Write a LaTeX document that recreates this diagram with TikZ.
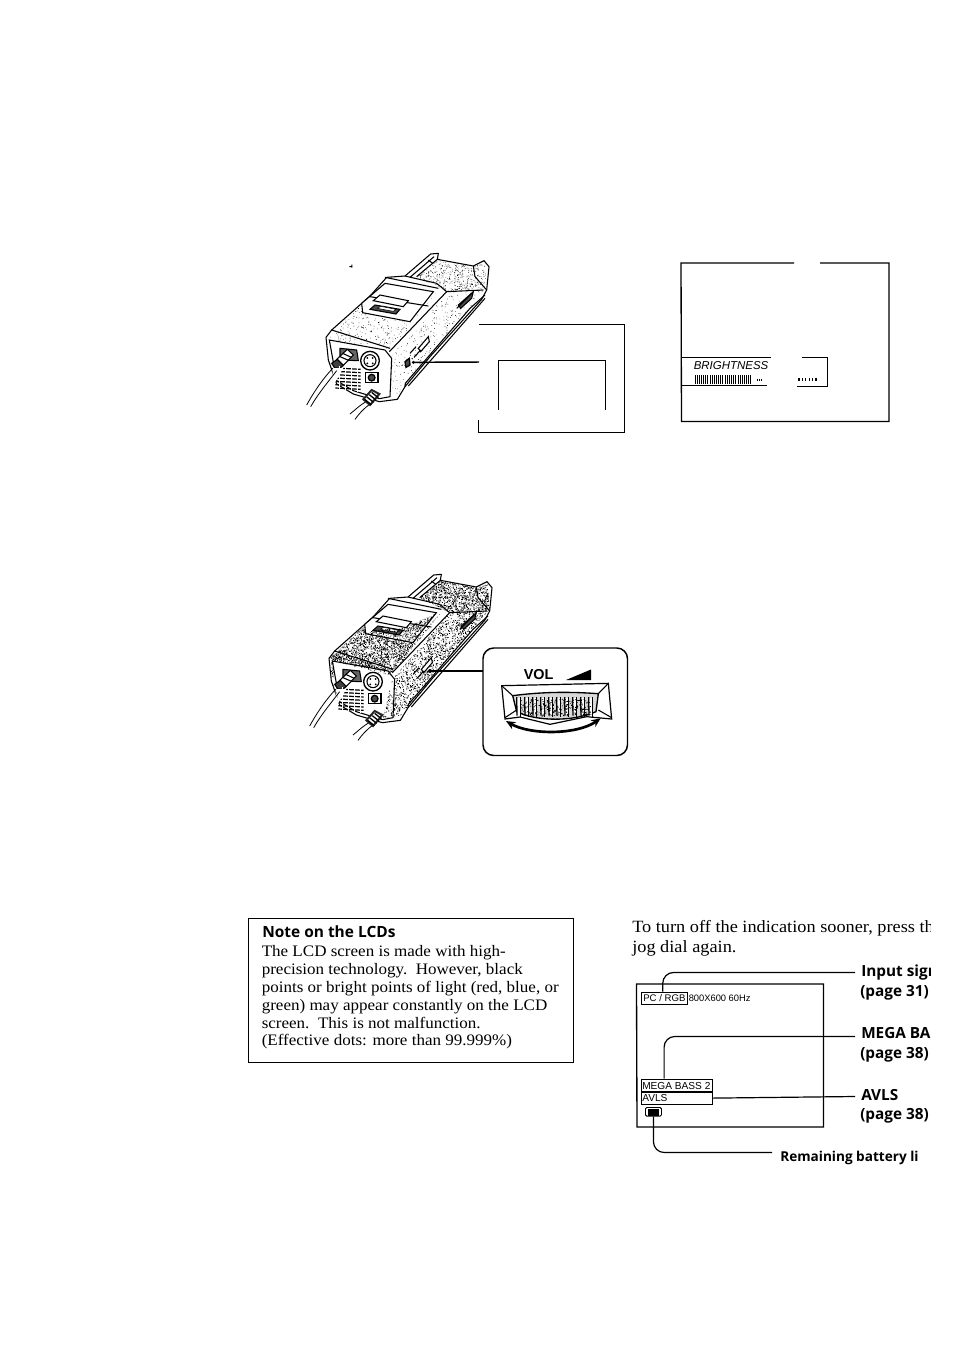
\documentclass[tikz,border=0pt]{standalone}
\usepackage{fontspec}
\setmainfont[FakeStretch=1.064]{Liberation Serif}
\newfontfamily\labelfont{Open Sans}
\newfontfamily\lcdfont{Liberation Sans}
\usetikzlibrary{arrows.meta}
\tikzset{
  frameline/.style={line width=1pt,black},
  thinframe/.style={line width=0.65pt,black},
  leader/.style={line width=0.9pt,black,rounded corners=8pt},
  devline/.style={line width=0.8pt,black},
  devthin/.style={line width=0.4pt,black},
  bodytext/.style={inner sep=0pt,anchor=north west,align=left,font=\fontsize{12}{13.35}\selectfont},
  calloutlabel/.style={inner sep=0pt,anchor=base west,font=\labelfont\bfseries\fontsize{11.5}{12}\selectfont},
  lcdtext/.style={inner sep=0pt,anchor=base west,font=\lcdfont\fontsize{7}{8}\selectfont},
}
\newcommand{\speckle}[6]{% batches-of-100 x0 x1 y0 y1 size
  \foreach \b in {1,...,#1}{
    \fill[black] \foreach \i in {1,...,100}{
      ({#2+rnd*(#3-#2)},{#4+rnd*(#5-#4)}) rectangle ++(#6,#6)
    };
  }}
% device drawing, in units of 1/3 px
\newcommand{\devicedraw}[3]{%
  % silhouette
  \draw[devline,fill=white,line join=round] (108,292) -- (125,270) -- (240,168) -- (290,112) -- (345,108)
     -- (422,42) -- (445,40) -- (442,58) -- (550,78) -- (582,62) -- (597,80) -- (590,150) -- (575,178)
     -- (420,350) -- (345,440) -- (322,478) -- (268,485) -- (190,462) -- (140,432) -- (115,360) -- cycle;
  % speckle top and side
  \begin{scope}
    \clip (112,290) -- (240,172) -- (220,215) -- (362,245) -- (448,150) -- (300,335) -- (122,298) -- cycle;
    \speckle{#1}{110}{450}{150}{340}{\dsize}
  \end{scope}
  \begin{scope}
    \clip (302,350) -- (470,158) -- (585,150) -- (420,345) -- (330,460) -- (300,470) -- cycle;
    \speckle{#2}{300}{585}{150}{470}{\dsize}
  \end{scope}
  \begin{scope}
    \clip (442,60) -- (550,80) -- (585,70) -- (590,148) -- (470,155) -- (380,110) -- cycle;
    \speckle{#3}{380}{590}{60}{155}{\dsize}
  \end{scope}
  % cradle rails
  \draw[devline] (345,108) -- (440,130) -- (470,155) -- (580,150);
  \draw[devline] (360,112) -- (432,50) (380,110) -- (442,58);
  \draw[devline] (550,78) -- (555,110) -- (590,150);
  \draw[devline] (415,60) -- (428,70);
  % top panel
  \draw[devline] (125,270) -- (300,325) (285,112) -- (445,145);
  \draw[devline,fill=white] (215,190) -- (285,130) -- (430,155) -- (360,245) -- (218,218) -- cycle;
  \draw[devline] (240,170) -- (415,198);
  \draw[devline,fill=white] (250,182) -- (270,165) -- (355,182) -- (340,200) -- cycle;
  \draw[devline,fill=black!70] (240,208) -- (255,195) -- (330,208) -- (318,222) -- cycle;
  \draw[devthin,fill=white] (262,205) -- (272,199) -- (318,208) -- (310,214) -- cycle;
  % front face
  \draw[devline,fill=white] (118,300) -- (285,330) -- (305,355) -- (300,470) -- (268,476) -- (190,452) -- (140,422) -- cycle;
  \draw[devline] (298,335) -- (470,155);
  \draw[devline] (345,440) -- (346,430) -- (540,205) -- (585,165);
  \draw[devline] (355,438) -- (585,175);
  % socket
  \draw[devline,fill=black!60] (150,325) -- (200,330) -- (205,362) -- (150,360) -- cycle;
  \draw[devline,fill=white] (140,358) -- (172,328) -- (190,345) -- (158,378) -- cycle;
  \draw[devline] (150,350) -- (178,362) (158,340) -- (184,352);
  \draw[devline,fill=black!75] (125,370) -- (142,358) -- (160,376) -- (140,392) -- cycle;
  % round socket
  \draw[line width=1pt,fill=white] (240,362) circle (28);
  \draw[devline] (240,362) circle (18);
  \fill (232,354) circle (3) (248,354) circle (3) (232,370) circle (3) (248,370) circle (3);
  % square jack
  \draw[line width=1pt,fill=white] (226,398) rectangle (264,428);
  \draw[line width=1pt,fill=black!70] (245,413) circle (10);
  % grille
  \foreach \y in {384,394,...,444}{
    \draw[line width=0.9pt] (136,\y) -- (212,\y+4);
  }
  \foreach \x in {148,166,184,202}{
    \fill[white] (\x,378) rectangle ++(2.5,78);
  }
  \fill[white] (128,384) -- (160,384) -- (128,440) -- cycle;
  % cables
  \draw[line width=0.6pt] (128,385) .. controls (100,415) and (75,450) .. (50,495);
  \draw[line width=0.6pt] (140,392) .. controls (115,425) and (85,460) .. (62,500);
  \draw[line width=0.6pt] (228,485) .. controls (210,495) and (195,510) .. (180,522);
  \draw[line width=0.6pt] (240,492) .. controls (222,505) and (208,520) .. (195,538);
  \draw[line width=1.5pt,black!85,fill=white] (220,478) -- (245,450) -- (268,462) -- (240,495) -- cycle;
  \foreach \k in {0,1,2,3}{
    \draw[line width=1pt] (224+\k*7,478-\k*7) -- (244+\k*7,494-\k*7);
  }
  % side controls
  \draw[devline,fill=white] (385,325) -- (415,290) -- (418,305) -- (392,335) -- cycle;
  \draw[devline] (360,340) -- (378,320) (372,352) -- (392,330);
  \draw[devline,fill=black!70] (505,195) -- (550,155) -- (545,175) -- (512,205) -- cycle;
  \draw[devline] (500,205) -- (545,160);
}
\begin{document}
\begin{tikzpicture}[x=0.75pt,y=-0.75pt]
\useasboundingbox (0,0) rectangle (954,1350);
\fill[white] (0,0) rectangle (954,1350);

% ---------- first device
\pgfmathsetseed{4242}
\def\dsize{1.7}
\begin{scope}[shift={(290,240)},x=0.25pt,y=-0.25pt]
  \devicedraw{7}{7}{6}
  \draw[line width=1pt,fill=black!70] (345,365) -- (358,355) -- (360,375) -- (348,382) -- cycle;
  \fill (370,367) circle (5);
  \coordinate (devA) at (370,367);
  \fill[black] (178,78) rectangle ++(8,3) (184,74) rectangle ++(3,9);
\end{scope}
\node[inner sep=0pt] (calloutA) at (479,362) {};
\draw[line width=1.1pt] (devA) -- (calloutA.center);
\draw[thinframe] (479,324) -- (624.5,324) -- (624.5,432) -- (478.5,432) -- (478.5,420);
\draw[thinframe] (498,410) -- (498,360) -- (605,360) -- (605,410);

% ---------- monitor with BRIGHTNESS
\draw[frameline] (794,263) -- (681,263) -- (681.5,421.5) -- (889,421.5) -- (889,263) -- (820,263);
\draw[thinframe] (682,357.5) -- (771,357.5) (682,385) -- (767,385);
\draw[thinframe] (802,357.5) -- (827,357.5) -- (827,386) -- (797,386);
\node[inner sep=0pt,anchor=base west,font=\lcdfont\itshape\fontsize{8.6}{10}\selectfont] (bright) at (693.5,369.5) {BRIGHTNESS};
\foreach \i in {0,...,26}{
  \draw[line width=0.75pt] (695+\i*2.15,375) -- (695+\i*2.15,383.5);
}
\foreach \i in {0,1,2}{ \draw[line width=0.7pt] (757+\i*2.3,378.5) -- (757+\i*2.3,381); }
\foreach \i in {0,...,5}{ \draw[line width=0.9pt] (799+\i*3.4,378) -- (799+\i*3.4,381); }

% ---------- second device
\pgfmathsetseed{977}
\def\dsize{2.4}
\begin{scope}[shift={(293,561)},x=0.25pt,y=-0.25pt]
  \devicedraw{40}{32}{12}
  \coordinate (devB) at (411,330);
  \fill (411,330) circle (6);
  % darkened front edge and top panel
  \begin{scope}
    \clip (108,292) -- (125,270) -- (300,335) -- (305,470) -- (270,470) -- (300,345) -- (120,300) -- (135,420) -- (115,360) -- cycle;
    \speckle{13}{105}{310}{265}{470}{2.2}
  \end{scope}
  \begin{scope}
    \clip (215,218) -- (360,245) -- (430,155) -- (340,200) -- (240,208) -- cycle;
    \speckle{12}{215}{430}{155}{245}{2.2}
  \end{scope}
\end{scope}
\node[inner sep=0pt] (dialhook) at (483,671) {};
\draw[line width=1.2pt] (devB) -- (dialhook.center);
\draw[line width=1.1pt,rounded corners=8pt,fill=white] (483,648) rectangle (627.5,755.5);
\node[inner sep=0pt,anchor=base west,font=\lcdfont\bfseries\fontsize{10.8}{12}\selectfont] (vol) at (523.5,679) {VOL};
\fill (566,680) -- (591,680) -- (591,669.5) -- cycle;
\begin{scope}[shift={(290,565)},x=0.25pt,y=-0.25pt]
  \draw[line width=0.9pt,fill=white] (635,362) -- (955,355) -- (965,462) -- (890,455) -- (780,478) -- (690,456) -- (645,462) -- cycle;
  \draw[devline] (635,362) -- (668,392) (955,355) -- (925,386) (645,458) -- (680,435) (965,458) -- (925,435);
  \draw[line width=1pt,fill=black!15] (668,392) .. controls (760,380) and (840,380) .. (925,386)
      -- (918,440) .. controls (850,470) and (740,470) .. (680,440) -- cycle;
  \pgfmathsetseed{55}
  \foreach \x in {680,704,728,752,776,800,824,848,872,896}{
    \fill[white] (\x,398) rectangle ++(11,50);
    \draw[line width=1pt] (\x,396) -- (\x+1,452);
    \draw[line width=1pt] (\x+12,396) -- (\x+12,455);
  }
  \speckle{3}{690}{900}{400}{452}{2.5}
  \draw[line width=2pt,{Stealth[length=7pt,width=6pt]}-{Stealth[length=7pt,width=6pt]}] (648,468) .. controls (720,510) and (860,510) .. (932,460);
\end{scope}

% ---------- note box
\draw[line width=1.4pt] (248.5,918.5) rectangle (573.5,1062.5);
\node[inner sep=0pt,anchor=base west,font=\labelfont\bfseries\fontsize{11.6}{12}\selectfont] (notehead) at (262,937) {Note on the LCDs};
\node[bodytext] (notebody) at (261.5,945.5) {The LCD screen is made with high-\\precision technology.\ \ However, black\\points or bright points of light (red, blue, or\\green) may appear constantly on the LCD\\screen.\ \ This is not malfunction.\\(Effective dots: more than 99.999\%)};

% ---------- right column
\begin{scope}
\clip (600,900) rectangle (930,1180);
\node[bodytext,font=\fontsize{12.9}{15}\selectfont] (offtext) at (632,920) {To turn off the indication sooner, press th\\jog dial again.};
\node[calloutlabel] (lblinput) at (861,976) {Input sign};
\node[calloutlabel] (lblinputp) at (860,996) {(page 31)};
\node[calloutlabel] (lblmega) at (861,1038.5) {MEGA BAS};
\node[calloutlabel] (lblmegap) at (860,1058) {(page 38)};
\node[calloutlabel] (lblavls) at (861,1100) {AVLS};
\node[calloutlabel] (lblavlsp) at (860,1119.5) {(page 38)};
\end{scope}
\begin{scope}
\clip (700,1140) rectangle (918,1180);
\node[calloutlabel,font=\labelfont\bfseries\fontsize{10.2}{12}\selectfont] (lblbatt) at (780,1161.5) {Remaining battery li};
\end{scope}

\draw[frameline] (636.5,984) -- (823.5,984) -- (823.5,1127) -- (637,1127) -- cycle;
\node[draw,line width=0.9pt,inner sep=0pt,minimum width=34.5pt,minimum height=9pt,anchor=north west] (pcbox) at (640.5,991.5) {};
\node[lcdtext] (pctext) at (643,1001) {\fontsize{7.2}{8}\selectfont PC / RGB};
\node[lcdtext] (res) at (688.5,1001) {800X600 60Hz};
\node[draw,line width=0.9pt,inner sep=0pt,minimum width=53.5pt,minimum height=9.5pt,anchor=north west] (megabox) at (640.5,1078.5) {};
\node[draw,line width=0.9pt,inner sep=0pt,minimum width=53.5pt,minimum height=9pt,anchor=north west] (avlsbox) at (640.5,1091.5) {};
\node[lcdtext] (megatext) at (642,1089.5) {\fontsize{7.6}{8}\selectfont MEGA BASS 2};
\node[lcdtext] (avlstext) at (642,1101.5) {\fontsize{7.6}{8}\selectfont AVLS};
\node[draw,line width=0.7pt,inner sep=0pt,minimum width=12pt,minimum height=6.5pt,rounded corners=1pt,anchor=north west,fill=white] (batt) at (645,1107) {};
\fill (648,1108.5) rectangle (659,1116);
\fill (644.5,1109.5) rectangle (646,1114);
\coordinate (inputend) at (855,972.5);
\coordinate (megaend) at (855,1036.5);
\coordinate (avlsend) at (855,1096.5);
\coordinate (battend) at (772,1152.5);
\draw[leader] ([xshift=-1pt]pcbox.north) coordinate (pcup) -- (pcup |- inputend) -- (inputend);
\draw[leader] ([xshift=-9.5pt]megabox.north) coordinate (megaup) -- (megaup |- megaend) -- (megaend);
\draw[line width=0.9pt] (avlsbox.east) -- (avlsend);
\draw[leader] (batt.south) -- (batt.south |- battend) -- (battend);
\end{tikzpicture}
\end{document}
